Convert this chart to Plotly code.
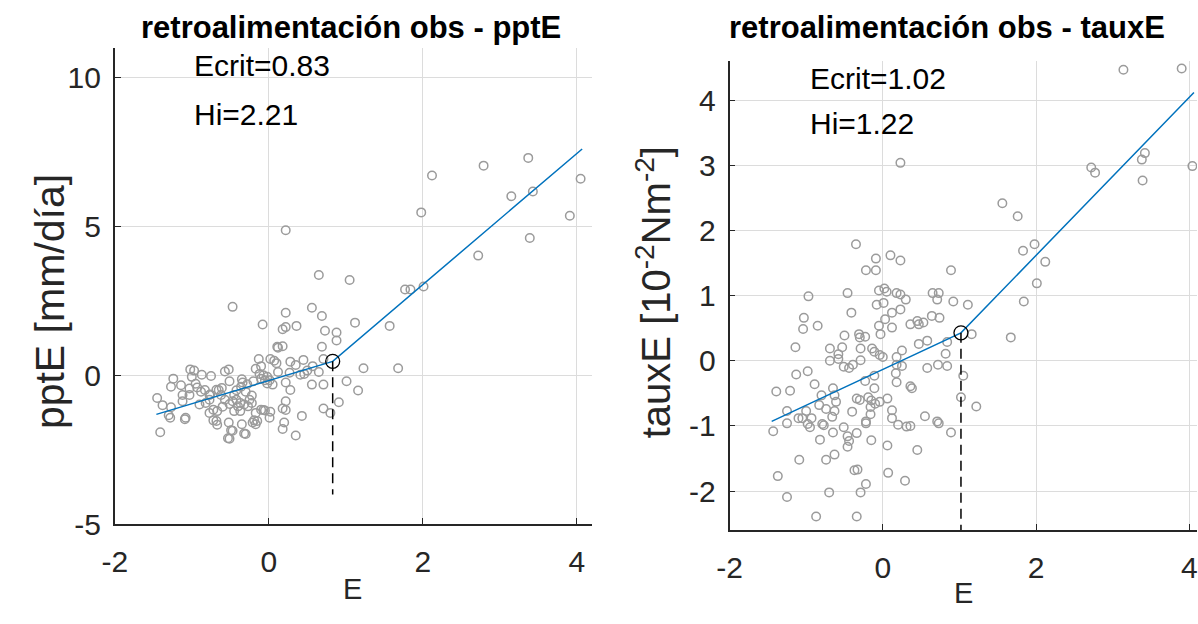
import plotly.graph_objects as go

# ---- pptE panel data ----
ppt_E = [-0.47, 0.22, 0.65, 1.05, 1.77, 1.84, 2.01, 1.98, 2.12, 2.72, 2.79, 3.15, 3.37, 3.43, 3.39, 3.91, 4.05,
         0.22, 0.56, 0.69, -0.08, 0.36, 0.18, 0.22, 1.12, 1.57, 0.73, 0.88, 0.88, 0.12, 0.18, 0.11, 0.69, 1.68,
         1.23, 1.01, 1.16, 0.91, 0.71, 0.80, 0.71, 0.56, 0.43, 0.35, 0.18, 0.20, 0.22, 0.18, 0.22, 0.01, 0.02,
         -0.07, -0.15, -0.17, -0.21, -0.30, -0.35, -0.47, -0.51, -0.52, -0.68, -0.67, -0.72, -1.09, -1.08, -1.28,
         -1.41, -1.45, -1.38, -1.27, -1.24, -1.27, -1.14, -1.02, -0.97, -1.00, -0.87, -0.75, -1.03, -0.93, -1.03,
         -1.12, -1.12, -0.90, -0.82, -0.77, -0.83, -0.77, -0.65, -0.62, -0.57, -0.52, -0.51, -0.35, -0.34, -0.36,
         -0.45, -0.42, -0.37, -0.47, -0.40, -0.32, -0.45, -0.37, -0.72, -0.67, -0.77, -0.57, -0.51, -0.25, -0.22,
         -0.27, -0.22, -0.17, -0.10, -0.13, -0.12, -0.07, -0.02, -0.10, -0.05, 0.02, 0.07, 0.10, -0.02, 0.05,
         0.01, 0.12, 0.27, 0.22, 0.28, 0.35, 0.45, 0.28, 0.41, 0.46, 0.50, 0.57, 0.65, 0.71, -0.10, -0.05, -0.17,
         -1.30, -0.76, -0.68, -0.61, -0.53, -0.32, -0.49, -0.19, -0.28, -0.20, -0.95, -0.88, -0.60, -0.30, -0.42]
ppt_val = [2.30, 4.87, 3.37, 3.20, 2.88, 2.88, 2.98, 5.47, 6.71, 4.02, 7.04, 6.01, 7.30, 6.17, 4.61, 5.36, 6.60,
           2.10, 2.27, 1.99, 1.71, 1.66, 1.55, 1.62, 1.77, 1.66, 1.50, 1.44, 1.17, 0.93, 0.98, 0.96, 0.96, 0.24,
           0.24, -0.20, -0.51, -0.90, -1.11, -1.26, -0.31, -0.31, -1.36, -2.02, -1.80, -1.58, -0.87, -1.11, -1.16,
           -1.42, -1.22, -1.16, -1.53, -1.64, -1.58, -1.97, -1.64, -1.86, -2.13, -1.58, -1.53, -1.66, -1.51, -1.47,
           -1.42, -1.42, -1.91, -0.76, -1.00, -1.07, -0.11, -0.38, -0.33, 0.20, 0.16, -0.05, 0.02, -0.02, -0.44,
           -0.41, -0.66, -0.66, -0.87, -0.98, -0.93, -0.82, -0.49, -0.66, -0.49, -0.66, 0.13, 0.20, -0.20, -0.13,
           -0.24, -0.38, -0.66, -0.82, -0.93, -0.87, -1.04, -0.98, -1.20, -1.20, -1.15, -1.20, -1.26, -0.82, -0.96,
           -0.82, -0.68, -1.04, -0.93, 0.22, 0.31, 0.55, 0.05, 0.00, -0.05, -0.11, -0.16, 0.55, 0.49, 0.41, -0.27,
           -0.31, -0.16, 0.11, 0.09, -0.24, 0.46, 0.35, 0.52, -0.49, 0.02, 0.05, 0.16, 0.31, 0.11, 0.55, -1.15,
           -1.18, -1.26, -1.34, -0.64, -0.48, -0.42, -2.11, -1.95, -1.84, -1.51, -0.30, -0.20, -0.28, -0.55, -1.05,
           -0.55, -0.50]
ppt_fit_E = [-1.46, 0.83, 4.07]
ppt_fit_val = [-1.31, 0.47, 7.60]
ppt_ecrit, ppt_hi = 0.83, 2.21
ppt_drop_bottom = -4.0

# ---- tauxE panel data ----
taux_E = [3.14, 3.90, 4.04, 0.23, 2.72, 2.77, 3.38, 3.42, 3.39, 1.56, 1.76, 1.98, 1.83, 2.12, 2.01, 1.84, -0.35,
          -0.09, 0.10, 0.23, -0.22, -0.09, 0.89, -0.97, -0.46, -0.05, 0.02, 0.05, 0.18, 0.23, 0.30, 0.65, 0.73,
          0.71, 0.92, 1.11, -0.08, 0.01, -0.41, -1.03, -1.04, -0.85, -1.14, -0.50, -0.31, -0.23, -0.30, -0.69,
          -0.53, -0.58, -0.58, -0.69, -0.51, -0.44, -0.39, -0.29, -0.29, -0.14, -0.11, -0.05, 0.03, 0.12, -0.03,
          0.12, 0.23, -0.04, 0.00, 0.18, 0.25, 0.36, 0.45, 0.47, 0.53, 0.47, 0.58, 0.64, 0.74, 0.82, 0.84, 0.58,
          0.72, 0.84, 1.16, 1.05, 1.02, 1.22, 1.67, 0.18, 0.25, 0.17, 0.18, -0.11, -0.23, -0.11, 0.36, 0.38, 0.06,
          0.12, 0.12, -0.04, -0.10, -0.15, -0.19, -0.16, -0.34, -0.30, -0.40, -0.22, -0.22, 0.20, 0.31, 0.36,
          0.55, 0.71, 0.73, 0.89, 0.45, 0.06, -0.15, -0.34, -0.46, -0.44, -0.46, -0.51, -0.65, -0.63, -0.66,
          -0.65, -0.63, -0.61, -0.80, -0.83, -0.74, -0.89, -0.98, -1.13, -1.21, -1.39, -1.25, -1.25, -1.10, -1.05,
          -1.00, -0.93, -0.98, -0.95, -0.79, -0.77, -1.43, -0.82, -0.74, -0.63, -1.09, -1.37, -1.25, -0.70,
          -0.87, -0.37, -0.33, -0.22, -0.29, -0.34, 0.07, 0.29, -0.16]
taux_val = [4.47, 4.49, 2.99, 3.04, 2.97, 2.89, 3.09, 3.19, 2.77, 2.42, 2.22, 1.79, 1.69, 1.52, 1.19, 0.91, 1.79,
            1.57, 1.62, 1.54, 1.39, 1.39, 1.39, 0.99, 1.04, 1.08, 1.11, 1.06, 1.04, 1.02, 0.94, 1.04, 1.04, 0.94,
            0.91, 0.86, 0.86, 0.89, 0.74, 0.66, 0.49, 0.54, 0.21, 0.39, 0.41, 0.37, 0.36, 0.19, 0.21, 0.10, 0.03,
            0.00, -0.09, -0.11, -0.06, 0.01, 0.19, 0.19, 0.14, 0.54, 0.64, 0.51, 0.41, 0.74, 0.79, 0.09, 0.06,
            0.06, 0.16, 0.56, 0.61, 0.56, 0.59, 0.26, 0.31, 0.69, 0.66, 0.11, 0.29, -0.11, -0.06, -0.08, 0.41,
            -0.23, -0.56, -0.70, 0.36, -0.06, -0.08, -0.19, -0.33, -0.23, -0.31, -0.42, -0.39, -0.42, -0.58, -0.76,
            -0.88, -0.63, -0.66, -0.61, -0.56, -0.71, -0.58, -0.60, -0.78, -0.93, -0.96, -0.98, -1.01, -1.00,
            -0.85, -0.93, -0.96, -1.10, -1.37, -1.30, -1.22, -1.11, -1.16, -1.23, -1.32, -1.02, -1.10, -0.77,
            -0.86, -0.42, -0.53, -0.63, -0.53, -0.68, -0.74, -0.36, -0.16, -0.21, -0.46, -0.47, -0.77, -0.96,
            -0.88, -0.88, -0.77, -0.88, -0.97, -1.02, -0.97, -0.99, -1.08, -1.21, -1.52, -1.44, -1.52, -1.77,
            -2.09, -2.02, -2.39, -1.68, -1.67, -1.89, -2.02, -2.39, -1.72, -1.84, -0.82]
taux_fit_E = [-1.45, 1.02, 4.06]
taux_fit_val = [-0.93, 0.43, 4.12]
taux_ecrit, taux_hi = 1.02, 1.22
taux_drop_bottom = -2.6

# ---- axes ticks ----
x_ticks = [-2, 0, 2, 4]
ppt_ticks = [-5, 0, 5, 10]
taux_ticks = [-2, -1, 0, 1, 2, 3, 4]


def lbl(values):
    return [str(v) for v in values]


FONT = "Liberation Sans, Arial, sans-serif"
W, H = 1198, 624
GRAY = "#9b9b9b"
BLUE = "#0072BD"

fig = go.Figure()


def add_panel(xs, ys, fx, fy, ecrit, drop_bottom, xa, ya):
    fig.add_trace(go.Scatter(
        x=xs, y=ys, mode="markers", xaxis=xa, yaxis=ya, showlegend=False,
        marker=dict(symbol="circle-open", size=8.5, color=GRAY, line=dict(width=1.5, color=GRAY))))
    fig.add_trace(go.Scatter(
        x=fx, y=fy, mode="lines", xaxis=xa, yaxis=ya, showlegend=False,
        line=dict(color=BLUE, width=1.5)))
    knee_y = fy[1]
    fig.add_trace(go.Scatter(
        x=[ecrit, ecrit], y=[knee_y, drop_bottom], mode="lines", xaxis=xa, yaxis=ya, showlegend=False,
        line=dict(color="black", width=1.5, dash="10px,6px")))
    fig.add_trace(go.Scatter(
        x=[ecrit], y=[knee_y], mode="markers", xaxis=xa, yaxis=ya, showlegend=False,
        marker=dict(symbol="circle-open", size=14, color="black", line=dict(width=1.3, color="black"))))


add_panel(ppt_E, ppt_val, ppt_fit_E, ppt_fit_val, ppt_ecrit, ppt_drop_bottom, "x", "y")
add_panel(taux_E, taux_val, taux_fit_E, taux_fit_val, taux_ecrit, taux_drop_bottom, "x2", "y2")

axis_common = dict(
    showline=True, linecolor="#262626", linewidth=1.8, mirror=False,
    ticks="inside", ticklen=6, tickwidth=1.2, tickcolor="#262626",
    showgrid=True, gridcolor="#dcdcdc", gridwidth=1, zeroline=False,
    tickfont=dict(family=FONT, size=30, color="#262626"),
    ticklabeloverflow="allow",
)

fig.update_layout(
    width=W, height=H, autosize=False,
    margin=dict(l=0, r=0, t=0, b=0),
    paper_bgcolor="white", plot_bgcolor="white",
    xaxis=dict(axis_common, domain=[103 / W, 586 / W], range=[-2, 4.2],
               tickvals=x_ticks, ticktext=lbl(x_ticks), anchor="y", ticklabelstandoff=10),
    yaxis=dict(axis_common, domain=[1 - 539 / H, 1 - 49 / H], range=[-5, 11],
               tickvals=ppt_ticks, ticktext=lbl(ppt_ticks), anchor="x", ticklabelstandoff=6),
    xaxis2=dict(axis_common, domain=[725 / W, 1.0], range=[-2, 4.1],
                tickvals=x_ticks, ticktext=lbl(x_ticks), anchor="y2", ticklabelstandoff=10),
    yaxis2=dict(axis_common, domain=[1 - 545 / H, 1 - 63 / H], range=[-2.6, 4.6],
                tickvals=taux_ticks, ticktext=lbl(taux_ticks), anchor="x2", ticklabelstandoff=6),
)

ann = []


def px_text(text, x, y, size, xanchor="center", yanchor="middle", bold=False, angle=0, color="black"):
    if bold:
        text = "<b>" + text + "</b>"
    ann.append(dict(text=text, x=x / W, y=1 - y / H, xref="paper", yref="paper",
                    xanchor=xanchor, yanchor=yanchor, showarrow=False, textangle=angle,
                    font=dict(family=FONT, size=size, color=color)))


# titles
px_text("retroalimentación obs - pptE", 342, 28, 31, bold=True)
px_text("retroalimentación obs - tauxE", 945, 28, 31, bold=True)
# axis labels
px_text("pptE [mm/día]", 37, 310, 41, angle=-90, color="#262626")
px_text("tauxE [10<sup>-2</sup>Nm<sup>-2</sup>]", 648, 300, 40, angle=-90, color="#262626")
px_text("E", 344, 606, 29, color="#262626")
px_text("E", 962, 610, 29, color="#262626")

# fit parameters
for text, xa, ya, xv, yv in [
    (f"Ecrit={ppt_ecrit:.2f}", "x", "y", -1.0, 10.4),
    (f"Hi={ppt_hi:.2f}", "x", "y", -1.0, 8.75),
    (f"Ecrit={taux_ecrit:.2f}", "x2", "y2", -0.98, 4.33),
    (f"Hi={taux_hi:.2f}", "x2", "y2", -0.98, 3.65),
]:
    ann.append(dict(text=text, x=xv, y=yv, xref=xa, yref=ya, xanchor="left", yanchor="middle",
                    showarrow=False, font=dict(family=FONT, size=30, color="black")))

fig.update_layout(annotations=ann)
fig.write_html("out.html")
